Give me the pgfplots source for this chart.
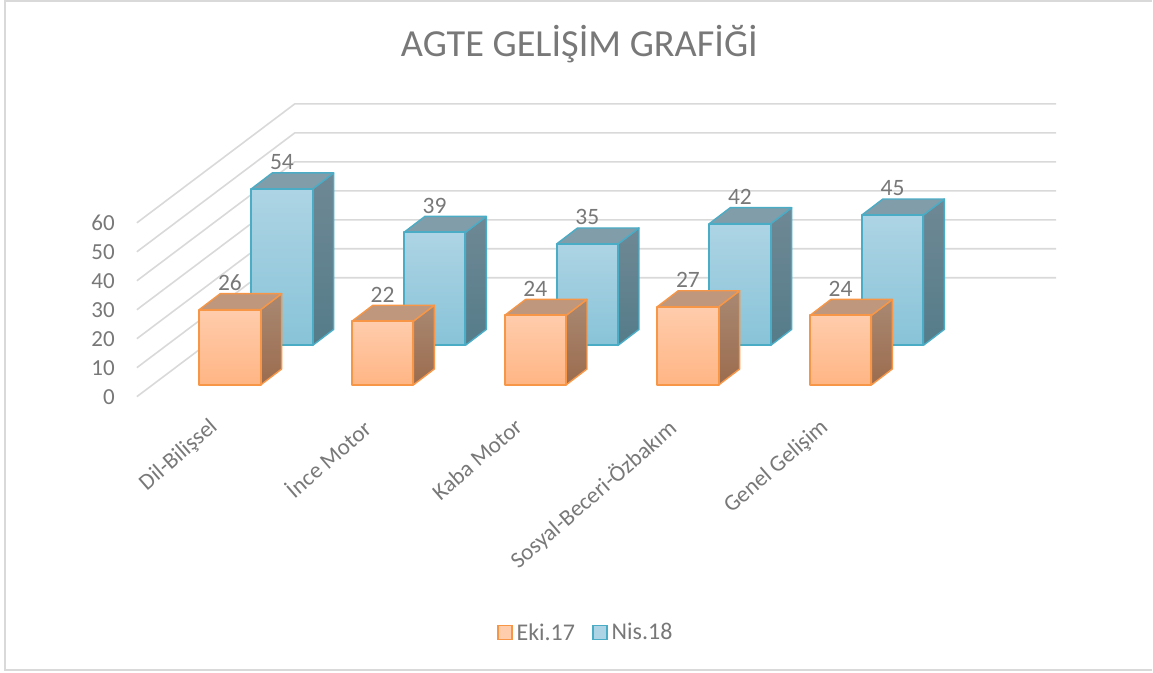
\documentclass[border=0pt]{standalone}
\usepackage{fontspec}
\setmainfont{Carlito}
\usepackage{pgfplots}
\usepackage{pgfplotstable}
\pgfplotsset{compat=1.18}

\definecolor{txt}{HTML}{787878}
\definecolor{gridc}{HTML}{D9D9D9}
\definecolor{oedge}{HTML}{F79646}
\definecolor{bedge}{HTML}{4BACC6}
\definecolor{ofronttop}{HTML}{FFCCAC}
\definecolor{ofrontbot}{HTML}{FFB584}
\definecolor{osidetop}{HTML}{A88872}
\definecolor{osidebot}{HTML}{9C6C4E}
\definecolor{otop}{HTML}{BE977D}
\definecolor{bfronttop}{HTML}{ADD4E4}
\definecolor{bfrontbot}{HTML}{88C3D8}
\definecolor{bsidetop}{HTML}{6F8895}
\definecolor{bsidebot}{HTML}{557C89}
\definecolor{btop}{HTML}{819DAA}

\pgfplotstableread{
cat Eki Nis
0 26 54
1 22 39
2 24 35
3 27 42
4 24 45
}\agte

% one 3d column: index, column name, x offset, base in value units, colour prefix
\newcommand{\cube}[5]{%
  \pgfplotstablegetelem{#1}{#2}\of\agte
  \pgfmathsetmacro\xl{#1+#3-0.2012}
  \pgfmathsetmacro\xr{#1+#3+0.2012}
  \pgfmathsetmacro\xlb{\xl+0.1374}
  \pgfmathsetmacro\xrb{\xr+0.1374}
  \pgfmathsetmacro\yb{#4}
  \pgfmathsetmacro\yt{#4+\pgfplotsretval}
  \pgfmathsetmacro\ybb{\yb+5.52}
  \pgfmathsetmacro\ytb{\yt+5.52}
  \addplot[forget plot,draw=#5edge,line width=1.4pt,line join=round,top color=#5sidetop,bottom color=#5sidebot]
    coordinates {(\xr,\yb) (\xrb,\ybb) (\xrb,\ytb) (\xr,\yt)} -- cycle;
  \addplot[forget plot,draw=#5edge,line width=1.4pt,line join=round,fill=#5top]
    coordinates {(\xl,\yt) (\xlb,\ytb) (\xrb,\ytb) (\xr,\yt)} -- cycle;
  \addplot[forget plot,draw=#5edge,line width=2pt,line join=round,top color=#5fronttop,bottom color=#5frontbot]
    coordinates {(\xl,\yb) (\xl,\yt) (\xr,\yt) (\xr,\yb)} -- cycle;
}

\begin{document}
\begin{tikzpicture}
\begin{axis}[
  scale only axis,
  width=1153pt,
  height=673pt,
  xmin=-1.5062,
  xmax=6.0396,
  ymin=-95.172,
  ymax=136.897,
  clip=false,
  axis line style={draw=none},
  major tick length=0pt,
  tick style={draw=none},
  xtick={0,1,2,3,4},
  xticklabels={Dil-Bilişsel,İnce Motor,Kaba Motor,Sosyal-Beceri-Özbakım,Genel Gelişim},
  xticklabel style={xshift=-22pt,yshift=256pt,rotate=41,anchor=north east,inner sep=0pt,
    font=\fontsize{23}{23}\selectfont,text=txt},
  ytick={0,10,...,60},
  yticklabel style={anchor=east,inner sep=0pt,xshift=115pt,
    font=\fontsize{23}{23}\selectfont,text=txt,
    /pgf/number format/assume math mode=true},
  title={AGTE GELİŞİM GRAFİĞİ},
  title style={at={(axis cs:2.289,119.5)},anchor=center,inner sep=0pt,
    font=\fontsize{38.3}{38.3}\selectfont,text=txt},
  legend style={at={(axis cs:2.33,-81.38)},anchor=center,draw=none,fill=none,
    legend columns=2,font=\fontsize{24}{24}\selectfont,text=txt,
    /tikz/every odd column/.append style={column sep=2pt},
    /tikz/every even column/.append style={column sep=15pt}},
  legend cell align=left,
]
% chart frame, open on the right
\addplot[forget plot,draw=gridc,line width=2pt] coordinates {(6.0396,136.5) (-1.4735,136.5) (-1.4735,-94.4) (6.0396,-94.4)};
% gridlines on floor side and back wall
\pgfplotsinvokeforeach{0,10,...,60}{
  \pgfmathsetmacro\wy{#1+41.03}
  \addplot[forget plot,draw=gridc,line width=1.6pt] coordinates {(-0.6096,#1) (0.4244,\wy) (5.411,\wy)};
}
\pgfplotsinvokeforeach{0,...,4}{\cube{#1}{Nis}{0.3406}{17.69}{b}}
\pgfplotsinvokeforeach{0,...,4}{\cube{#1}{Eki}{0}{4.03}{o}}
% value labels
\addplot[forget plot,draw=none,mark=none,nodes near coords,point meta=explicit,
  /pgf/number format/assume math mode=true,
  every node near coord/.append style={anchor=south,inner sep=0pt,yshift=19pt,
    font=\fontsize{23.5}{23.5}\selectfont,text=txt}]
  table[x expr=\thisrow{cat},y expr=\thisrow{Eki}+4.03,meta=Eki] {\agte};
\addplot[forget plot,draw=none,mark=none,nodes near coords,point meta=explicit,
  /pgf/number format/assume math mode=true,
  every node near coord/.append style={anchor=south,inner sep=0pt,yshift=19pt,
    font=\fontsize{23.5}{23.5}\selectfont,text=txt}]
  table[x expr=\thisrow{cat}+0.3406,y expr=\thisrow{Nis}+17.69,meta=Nis] {\agte};
\addlegendimage{legend image code/.code={\draw[draw=oedge,line width=1.7pt,fill=ofronttop] (0pt,-7pt) rectangle (14pt,7pt);}}
\addlegendentry{Eki.17}
\addlegendimage{legend image code/.code={\draw[draw=bedge,line width=1.7pt,fill=bfronttop] (0pt,-7pt) rectangle (14pt,7pt);}}
\addlegendentry{Nis.18}
\end{axis}
\end{tikzpicture}
\end{document}
